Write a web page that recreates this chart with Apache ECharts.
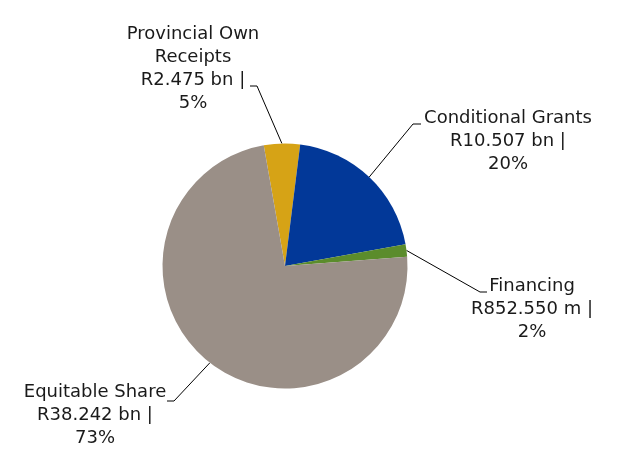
<!DOCTYPE html>
<html><head><meta charset="utf-8">
<script src="https://cdn.jsdelivr.net/npm/echarts@6/dist/echarts.min.js"></script>
<style>html,body{margin:0;padding:0;background:#fff}#c{width:618px;height:473px}</style>
</head><body><div id="c"></div>
<script>
const categories = ['Provincial Own Receipts', 'Conditional Grants', 'Financing', 'Equitable Share'];
const labelNames = ['Provincial Own\nReceipts', 'Conditional Grants', 'Financing', 'Equitable Share'];
const values = [2.475, 10.507, 0.85255, 38.242]; // R billion
const amountLabels = ['R2.475 bn |', 'R10.507 bn |', 'R852.550 m |', 'R38.242 bn |'];
const percentLabels = ['5%', '20%', '2%', '73%'];
const colors = ['#D6A316', '#023898', '#5B8C2C', '#9A8F87'];

// label centre positions and leader-line anchor offsets (relative to label centre)
const labelPos = [[193, 68.5], [508, 141.5], [532, 309.5], [95, 415]];
const leaderEnd = [[57, 17.5], [-87, -17.5], [-45, -17.5], [72, -14]];
const leaderTail = [7, -8, -7, 7];

const chart = echarts.init(document.getElementById('c'), null, {renderer: 'canvas'});
chart.setOption({
  animation: false,
  series: [{
    type: 'pie',
    center: [285, 266],
    radius: [0, 122.5],
    startAngle: 100,
    clockwise: true,
    data: categories.map((c, i) => ({
      name: c, value: values[i],
      itemStyle: {color: colors[i]},
      label: {formatter: labelNames[i] + '\n' + amountLabels[i] + '\n' + percentLabels[i]}
    })),
    label: {
      show: true,
      fontFamily: 'DejaVu Sans',
      fontSize: 18,
      lineHeight: 23,
      color: '#1a1a1a',
      align: 'center'
    },
    labelLine: {show: true, length: 20, length2: 8, lineStyle: {color: '#000', width: 1}},
    labelLayout: function (p) {
      const i = p.dataIndex;
      const pos = labelPos[i];
      const end = [pos[0] + leaderEnd[i][0], pos[1] + leaderEnd[i][1]];
      const bend = [end[0] + leaderTail[i], end[1]];
      const start = p.labelLinePoints ? p.labelLinePoints[0] : bend;
      return {
        x: pos[0], y: pos[1], align: 'center', verticalAlign: 'middle',
        labelLinePoints: [start, bend, end]
      };
    },
    emphasis: {disabled: true}
  }]
});
</script></body></html>
